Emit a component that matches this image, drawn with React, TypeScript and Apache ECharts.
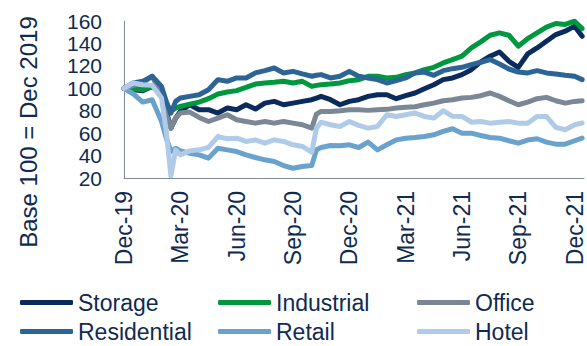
import React, { useEffect, useRef } from "react";
import * as echarts from "echarts";

// Months elapsed since Dec-19 (0 = Dec-19, 24 = Dec-21)
const months = [
  0, 0.5, 1, 1.5, 2, 2.25, 2.5, 2.75,
  3, 3.5, 4, 4.5, 5, 5.5, 6, 6.5, 7, 7.5, 8, 8.5, 9, 9.5,
  10, 10.25, 10.5, 11, 11.5, 12, 12.5, 13, 13.5, 14, 14.5, 15, 15.5, 16, 16.5,
  17, 17.5, 18, 18.5, 19, 19.5, 20, 20.5, 21, 21.5, 22, 22.5, 23, 23.5, 24, 24.4,
];

const tickLabels = [
  "Dec-19", "Mar-20", "Jun-20", "Sep-20", "Dec-20",
  "Mar-21", "Jun-21", "Sep-21", "Dec-21",
];

const storage = [
  100, 98.7, 97.9, 101.7, 94.3, 79.4, 64.5, 73.4,
  79.4, 85.3, 80.9, 80.9, 77.9, 82.4, 80.9, 85.3, 81.5, 86.8, 88.3, 85.3, 86.8, 88.3,
  89.8, 91.3, 92.8, 89.8, 85.3, 88.3, 89.8, 92.8, 94.3, 94.3, 90.7, 93.4, 95.8, 99.6, 103.2,
  107.7, 109.2, 112.2, 116.6, 123.5, 128.6, 132.4, 124.1, 118.7, 130.6, 136, 142, 147.9, 150.9, 155.4, 146.4,
];

const industrial = [
  100, 99.6, 98.7, 101.7, 95.8, 86.8, 79.4, 82.4,
  83.8, 85.9, 87.7, 90.7, 94.9, 96.7, 97.9, 100.8, 103.8, 104.7, 105.3, 106.2, 104.7, 106.2,
  101.7, 102.6, 103.2, 103.8, 104.7, 106.8, 107.7, 110.7, 110.7, 109.2, 109.8, 112.2, 113.7, 116.6, 118.7,
  122.6, 125.6, 128.6, 136, 141.4, 147.3, 149.4, 147.3, 137.5, 144.3, 149.4, 154.5, 157.8, 156.9, 159.8, 153.3,
];

const office = [
  100, 102.6, 104.7, 110.7, 94.3, 76.4, 64.5, 73.4,
  77.9, 78.8, 74, 70.4, 73.4, 76.4, 71.9, 70.4, 68.9, 70.4, 68.9, 70.4, 68.9, 67.5,
  64.5, 77, 79.4, 79.4, 80, 80.9, 80.9, 80.3, 80.9, 81.2, 82.4, 83, 83.6, 85.3, 86.8,
  88.9, 89.8, 91.3, 91.9, 93.4, 95.8, 92.8, 88.9, 85.3, 87.7, 90.7, 91.9, 88.9, 86.8, 88.3, 88.9,
];

const residential = [
  100, 104.7, 106.2, 110.7, 101.7, 88.3, 77.9, 88.3,
  91.3, 92.8, 94.3, 98.7, 107.7, 106.2, 109.2, 109.2, 113.7, 115.7, 118.1, 113.7, 115.1, 112.8,
  110.7, 111.6, 112.2, 109.2, 110.7, 115.1, 110.7, 109.2, 107.7, 104.7, 106.8, 109.2, 113.7, 114.5, 111.6,
  115.7, 117.5, 118.7, 121.1, 123.2, 125.6, 121.7, 117.2, 114.5, 113.7, 115.7, 113.7, 112.8, 111.6, 110.7, 107.7,
];

const retail = [
  100, 94.9, 87.7, 89.8, 70.4, 55.5, 43.6, 46.6,
  44.2, 42.1, 40.6, 37.7, 46.6, 45.1, 43.6, 40.6, 38.3, 36.2, 34.7, 31.1, 28.7, 30.2,
  31.1, 45.1, 47.2, 49, 48.7, 49.6, 47.2, 52, 45.1, 49.6, 54, 55.5, 56.1, 57, 58.5,
  61.5, 63.9, 60, 60, 57.9, 56.1, 55.5, 53.2, 51.1, 53.8, 55, 52, 50.2, 50.2, 53.2, 55.5,
];

const hotel = [
  100, 104.7, 103.2, 102.6, 91.3, 61.5, 22, 45.1,
  40.6, 44.2, 45.1, 47.2, 57, 54.9, 55.5, 52.6, 54, 51.1, 54, 52.6, 49.6, 48.1,
  43, 64.5, 69.8, 67.5, 66, 70.4, 66.9, 64.5, 66, 76.4, 74.9, 76.4, 77.9, 74.9, 73.4,
  80, 75, 74.9, 69.8, 70.4, 68.9, 69.8, 70.4, 68.9, 68.9, 74.9, 74.9, 65.1, 63, 67.5, 69,
];

const seriesDefs = [
  { name: "Storage", values: storage, color: "#0A2B5C" },
  { name: "Industrial", values: industrial, color: "#00983F" },
  { name: "Office", values: office, color: "#7B8794" },
  { name: "Residential", values: residential, color: "#2C6496" },
  { name: "Retail", values: retail, color: "#6AA2CE" },
  { name: "Hotel", values: hotel, color: "#AFCBE8" },
];

const TEXT = "#0F2B52";
const AXIS = "#7F8B98";
const FONT = "'Liberation Sans', Arial, sans-serif";

export default function App() {
  const ref = useRef<HTMLDivElement>(null);

  useEffect(() => {
    if (!ref.current) return;
    const chart = echarts.init(ref.current, null, { renderer: "svg" });

    const legendBase = {
      orient: "vertical" as const,
      top: 291,
      itemGap: 6,
      itemWidth: 53,
      itemHeight: 5,
      icon: "roundRect",
      selectedMode: false,
      padding: 0,
      textStyle: { fontSize: 23, color: TEXT, fontFamily: FONT, padding: [0, 0, 0, 0] },
    };

    chart.setOption({
      animation: false,
      backgroundColor: "#ffffff",
      textStyle: { fontFamily: FONT },
      grid: { left: 124, right: 3, top: 21, bottom: 168, containLabel: false },
      xAxis: {
        type: "value",
        min: 0,
        max: 24.5,
        interval: 3,
        axisLine: { show: true, lineStyle: { color: AXIS, width: 1 } },
        axisTick: { show: false },
        splitLine: { show: false },
        axisLabel: {
          rotate: 90,
          margin: 13,
          fontSize: 23,
          color: TEXT,
          fontFamily: FONT,
          showMaxLabel: true,
          formatter: (v: number) => {
            const i = v / 3;
            return Number.isInteger(i) && tickLabels[i] ? tickLabels[i] : "";
          },
        },
      },
      yAxis: {
        type: "value",
        min: 20,
        max: 160,
        interval: 20,
        axisLine: { show: true, lineStyle: { color: AXIS, width: 1 } },
        axisTick: { show: false },
        splitLine: { show: false },
        axisLabel: {
          margin: 22,
          fontSize: 21,
          lineHeight: 19,
          color: TEXT,
          fontFamily: FONT,
          showMinLabel: true,
          showMaxLabel: true,
          hideOverlap: false,
        },
      },
      legend: [
        { ...legendBase, left: 20, data: ["Storage", "Residential"] },
        { ...legendBase, left: 218, data: ["Industrial", "Retail"] },
        { ...legendBase, left: 417, data: ["Office", "Hotel"] },
      ],
      graphic: [
        {
          type: "text",
          x: 28,
          y: 132,
          rotation: Math.PI / 2,
          style: {
            text: "Base 100 = Dec 2019",
            fontSize: 24,
            fontFamily: FONT,
            fill: TEXT,
            textAlign: "center",
            textVerticalAlign: "middle",
          },
        },
      ],
      series: seriesDefs.map((s) => ({
        name: s.name,
        type: "line",
        data: months.map((m, i) => [m, s.values[i]]),
        symbol: "none",
        smooth: false,
        color: s.color,
        lineStyle: { width: 5, color: s.color, cap: "round", join: "round" },
      })),
    });

    return () => chart.dispose();
  }, []);

  return (
    <div
      ref={ref}
      style={{ position: "fixed", left: 0, top: 0, width: 587, height: 346 }}
    />
  );
}
